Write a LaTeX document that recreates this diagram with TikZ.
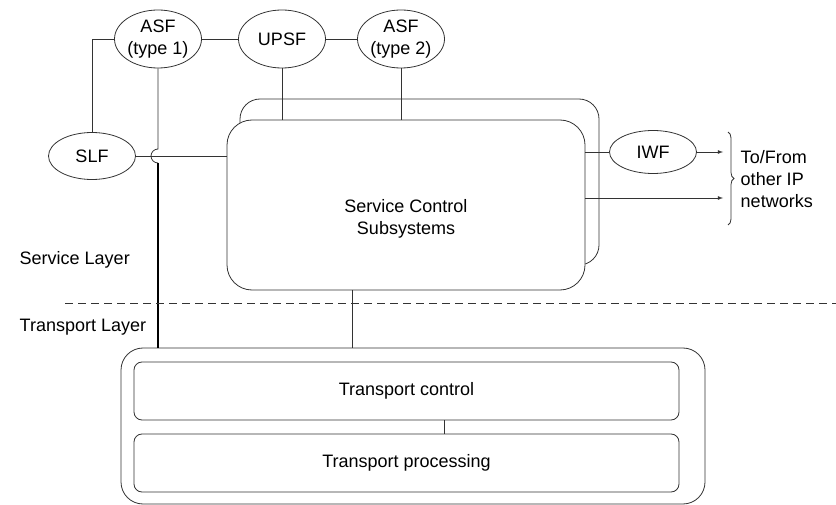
\documentclass[tikz,border=0pt]{standalone}
\usepackage{fontspec}
\setmainfont{Liberation Sans}
\usetikzlibrary{shapes.geometric, decorations.pathreplacing}

\begin{document}
\begin{tikzpicture}[x=1pt, y=-1pt, font=\fontsize{18}{21.6}\selectfont, line width=.8pt, draw=black!80,
    func/.style={ellipse, draw=black!80, minimum width=87pt, minimum height=58pt, inner sep=0pt, align=center},
    layer/.style={rectangle, draw=black!80, fill=white, rounded corners=#1, inner sep=0pt},
    heavy/.style={line width=1.8pt, draw=black}]
    \useasboundingbox (0,0) rectangle (836,505);
    % functions
    \node[func] (asfa) at (158,39) {ASF\\(type 1)};
    \node[func] (upsf) at (282,39) {UPSF};
    \node[func] (asfb) at (401,39) {ASF\\(type 2)};
    \node[func, minimum height=47pt] (slf) at (92,156) {SLF};
    \node[func, minimum height=43pt] (iwf) at (653,152) {IWF};
    % service control
    \node[layer=20pt, minimum width=359pt, minimum height=166pt] (scsback) at (419.5,182) {};
    \node[layer=25pt, minimum width=358pt, minimum height=170pt] (scs) at (406,205) {};
    \node[align=center] (scstext) at (406,219) {Service Control\\Subsystems};
    % transport
    \node[layer=22pt, minimum width=584pt, minimum height=156pt] (trans) at (413,426) {};
    \node[layer=8pt, minimum width=545pt, minimum height=58pt] (tctrl) at (406.5,391) {Transport control};
    \node[layer=8pt, minimum width=545pt, minimum height=58pt] (tproc) at (406.5,463) {Transport processing};
    % links
    \draw (asfa.west) -| (slf.north);
    \draw (asfa.east) -- (upsf.west);
    \draw (upsf.east) -- (asfb.west);
    \draw (upsf.south) -- (upsf.south |- scs.north);
    \draw (asfb.south) -- (asfb.south |- scs.north);
    \draw (slf.east) -- (slf.east -| scs.west);
    \coordinate (hop) at (asfa.south |- slf.east);
    \draw (asfa.south) -- ([yshift=7pt]hop) arc[start angle=90, end angle=270, radius=7pt];
    \draw[heavy] ([yshift=-7pt]hop) -- (hop |- trans.north);
    \draw ([xshift=-54pt]scs.south) -- ([xshift=-54pt]scs.south |- trans.north);
    \draw ([xshift=38pt]tctrl.south) -- ([xshift=38pt]tproc.north);
    \draw (scs.east |- iwf.west) -- (iwf.west);
    % other networks
    \coordinate (bracetop) at (728,132);
    \coordinate (bracebot) at (728,225);
    \coordinate (toip) at (723,198);
    \draw[-latex] (iwf.east) -- (iwf.east -| toip);
    \draw[-latex] (scs.east |- toip) -- (toip);
    \draw[decorate, decoration={brace, amplitude=6pt}] (bracetop) -- (bracebot);
    \node[anchor=west, align=left] (ipnet) at (737,179) {To/From\\other IP\\networks};
    % layers
    \draw[dash pattern=on 8pt off 5pt] (65,303) -- (836,303);
    \node[anchor=west] (slayer) at (16,260) {Service Layer};
    \node[anchor=west] (tlayer) at (16,327) {Transport Layer};
\end{tikzpicture}
\end{document}
